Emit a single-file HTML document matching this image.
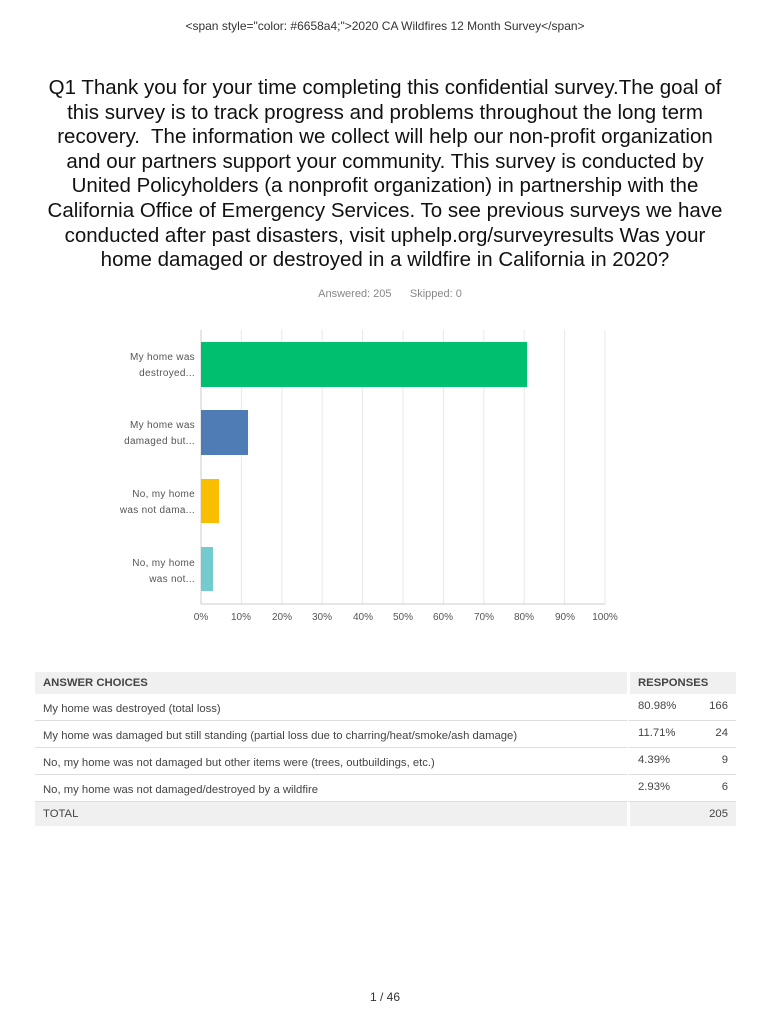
<!DOCTYPE html>
<html><head><style>
body{margin:0;width:770px;height:1024px;background:#fff;font-family:"Liberation Sans",sans-serif;position:relative;overflow:hidden}
.hdr{position:absolute;top:19px;left:0;width:770px;text-align:center;font-size:12px;color:#333}
.title{position:absolute;top:76px;left:0;width:770px;text-align:center;font-size:20.5px;line-height:24.6px;color:#111;white-space:nowrap}
.ans{position:absolute;top:288px;left:0;width:780px;text-align:center;font-size:11px;color:#888}
.lbl{position:absolute;font-size:10px;color:#555;text-align:right;width:95px;left:100px;line-height:16px;letter-spacing:.3px}
.tick{position:absolute;top:612px;font-size:10px;color:#555;width:40px;text-align:center}
table{position:absolute;top:672px;left:35px;width:701px;border-collapse:separate;border-spacing:0;font-size:11.3px;color:#444}
td{box-sizing:border-box;height:27px;border-bottom:1px solid #ddd;padding:4px 8px 0 8px;vertical-align:middle;line-height:13px}
td.n{vertical-align:top;padding-top:6px}
tr.h td{background:#f0f0f0;font-weight:bold;height:22px;border:none;padding-top:0}
tr.t td{background:#f0f0f0;height:24px;border:none;padding-top:0}
.foot{position:absolute;top:990px;left:0;width:770px;text-align:center;font-size:12px;color:#333}
</style></head><body>
<div class="hdr">&lt;span style="color: #6658a4;"&gt;2020 CA Wildfires 12 Month Survey&lt;/span&gt;</div>
<div class="title">Q1 Thank you for your time completing this confidential survey.The goal of<br>this survey is to track progress and problems throughout the long term<br>recovery.&nbsp; The information we collect will help our non-profit organization<br>and our partners support your community. This survey is conducted by<br>United Policyholders (a nonprofit organization) in partnership with the<br>California Office of Emergency Services. To see previous surveys we have<br>conducted after past disasters, visit uphelp.org/surveyresults Was your<br>home damaged or destroyed in a wildfire in California in 2020?</div>
<div class="ans">Answered: 205 &nbsp;&nbsp;&nbsp;&nbsp;&nbsp;Skipped: 0</div>
<svg style="position:absolute;left:0;top:0" width="770" height="660">
<g stroke="#e8e8e8" stroke-width="1">
<line x1="241.4" y1="330" x2="241.4" y2="604"/><line x1="281.8" y1="330" x2="281.8" y2="604"/><line x1="322.2" y1="330" x2="322.2" y2="604"/><line x1="362.6" y1="330" x2="362.6" y2="604"/><line x1="403" y1="330" x2="403" y2="604"/><line x1="443.4" y1="330" x2="443.4" y2="604"/><line x1="483.8" y1="330" x2="483.8" y2="604"/><line x1="524.2" y1="330" x2="524.2" y2="604"/><line x1="564.6" y1="330" x2="564.6" y2="604"/><line x1="605" y1="330" x2="605" y2="604"/>
</g>
<line x1="201" y1="330" x2="201" y2="604" stroke="#ccc"/>
<line x1="201" y1="604" x2="605" y2="604" stroke="#ccc"/>
<rect x="201" y="342" width="326" height="45" fill="#00bf6f"/>
<rect x="201" y="410" width="47" height="45" fill="#507cb6"/>
<rect x="201" y="479" width="18" height="44" fill="#f9be00"/>
<rect x="201" y="547" width="12" height="44" fill="#6bc8cd" opacity=".95"/>
</svg>
<div class="lbl" style="top:350px">My home was<br>destroyed...</div>
<div class="lbl" style="top:418px">My home was<br>damaged but...</div>
<div class="lbl" style="top:487px">No, my home<br>was not dama...</div>
<div class="lbl" style="top:556px">No, my home<br>was not...</div>
<div class="tick" style="left:181px">0%</div><div class="tick" style="left:221px">10%</div><div class="tick" style="left:262px">20%</div><div class="tick" style="left:302px">30%</div><div class="tick" style="left:343px">40%</div><div class="tick" style="left:383px">50%</div><div class="tick" style="left:423px">60%</div><div class="tick" style="left:464px">70%</div><div class="tick" style="left:504px">80%</div><div class="tick" style="left:545px">90%</div><div class="tick" style="left:585px">100%</div>
<table>
<tr class="h"><td style="width:592px">ANSWER CHOICES</td><td colspan="2" style="border-left:3px solid #fff">RESPONSES</td></tr>
<tr><td>My home was destroyed (total loss)</td><td class="n" style="border-left:3px solid #fff">80.98%</td><td class="n" style="text-align:right">166</td></tr>
<tr><td>My home was damaged but still standing (partial loss due to charring/heat/smoke/ash damage)</td><td class="n" style="border-left:3px solid #fff">11.71%</td><td class="n" style="text-align:right">24</td></tr>
<tr><td>No, my home was not damaged but other items were (trees, outbuildings, etc.)</td><td class="n" style="border-left:3px solid #fff">4.39%</td><td class="n" style="text-align:right">9</td></tr>
<tr><td>No, my home was not damaged/destroyed by a wildfire</td><td class="n" style="border-left:3px solid #fff">2.93%</td><td class="n" style="text-align:right">6</td></tr>
<tr class="t"><td>TOTAL</td><td style="border-left:3px solid #fff"></td><td style="text-align:right">205</td></tr>
</table>
<div class="foot">1 / 46</div>
</body></html>
